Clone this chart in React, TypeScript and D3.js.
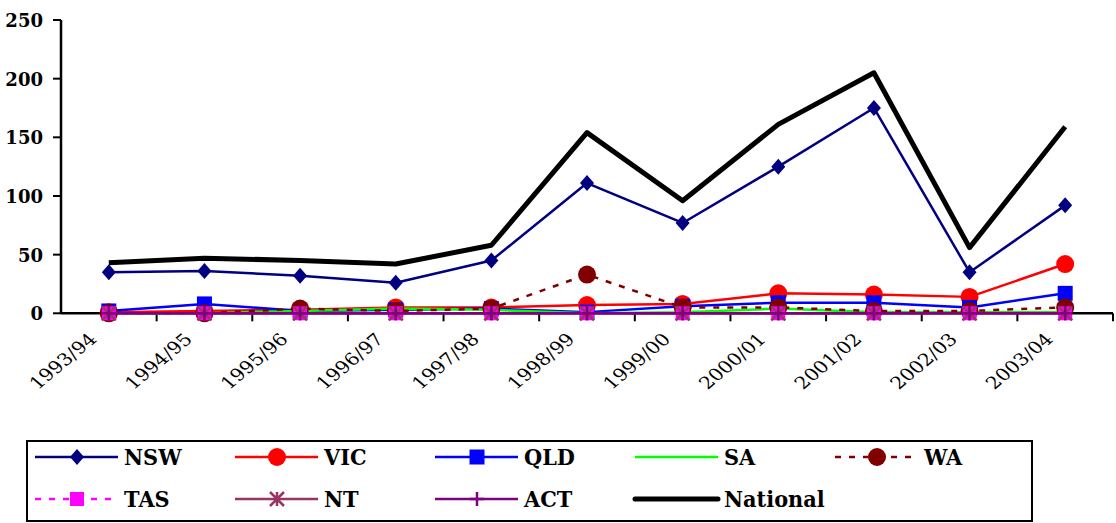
import * as d3 from 'd3';
import React, { useEffect, useRef } from 'react';

const years = [
  '1993/94', '1994/95', '1995/96', '1996/97', '1997/98', '1998/99',
  '1999/00', '2000/01', '2001/02', '2002/03', '2003/04',
];
const nsw = [35, 36, 32, 26, 45, 111, 77, 125, 175, 35, 92];
const vic = [1, 2, 3, 5, 5, 7, 8, 17, 16, 14, 42];
const qld = [2, 8, 2, 3, 4, 1, 6, 9, 9, 5, 17];
const sa = [0, 0, 2, 4, 3, 0, 1, 4, 1, 1, 1];
const wa = [0, 0, 4, 2, 4, 33, 5, 5, 2, 2, 5];
const tas = [0, 0, 0, 0, 0, 0, 0, 0, 0, 0, 0];
const nt = [0, 0, 0, 0, 0, 0, 0, 0, 0, 0, 0];
const act = [0, 0, 0, 0, 0, 0, 0, 0, 0, 0, 0];
const national = [43, 47, 45, 42, 58, 154, 96, 161, 205, 56, 159];
const yTicks = [0, 50, 100, 150, 200, 250];

type Series = {
  name: string;
  values: number[];
  color: string;
  width: number;
  dash?: string;
  marker: string;
};

const series: Series[] = [
  { name: 'NSW', values: nsw, color: '#000080', width: 2.5, marker: 'diamond' },
  { name: 'VIC', values: vic, color: '#ff0000', width: 2.5, marker: 'circle' },
  { name: 'QLD', values: qld, color: '#0000ff', width: 2.5, marker: 'square' },
  { name: 'SA', values: sa, color: '#00ff00', width: 2.5, marker: 'none' },
  { name: 'WA', values: wa, color: '#800000', width: 2.5, dash: '6 8', marker: 'circle' },
  { name: 'TAS', values: tas, color: '#ff00ff', width: 2.5, dash: '6 8', marker: 'square' },
  { name: 'NT', values: nt, color: '#993366', width: 2.5, marker: 'star' },
  { name: 'ACT', values: act, color: '#800080', width: 2.5, marker: 'plus' },
  { name: 'National', values: national, color: '#000000', width: 5, marker: 'none' },
];

const font = "'DejaVu Serif', 'Liberation Serif', serif";

function drawMarker(g: d3.Selection<SVGGElement, unknown, null, undefined>, s: Series, x: number, y: number) {
  const c = s.color;
  if (s.marker === 'diamond') {
    g.append('path').attr('d', `M${x},${y - 8}L${x + 7},${y}L${x},${y + 8}L${x - 7},${y}Z`).attr('fill', c);
  } else if (s.marker === 'circle') {
    g.append('circle').attr('cx', x).attr('cy', y).attr('r', 9).attr('fill', c);
  } else if (s.marker === 'square') {
    const sz = s.name === 'QLD' ? 15 : 14;
    g.append('rect').attr('x', x - sz / 2).attr('y', y - sz / 2).attr('width', sz).attr('height', sz).attr('fill', c);
  } else if (s.marker === 'star') {
    const r = 7;
    g.append('path')
      .attr('d', `M${x},${y - r}V${y + r}M${x - r},${y - r}L${x + r},${y + r}M${x + r},${y - r}L${x - r},${y + r}`)
      .attr('stroke', c).attr('stroke-width', 2.5).attr('fill', 'none');
  } else if (s.marker === 'plus') {
    const r = 7;
    g.append('path')
      .attr('d', `M${x},${y - r}V${y + r}M${x - r},${y}H${x + r}`)
      .attr('stroke', c).attr('stroke-width', 2.5).attr('fill', 'none');
  }
}

function App() {
  const svgRef = useRef<SVGSVGElement>(null);

  useEffect(() => {
    const w = 1116;
    const h = 523;
    const svg = d3.select(svgRef.current).attr('width', w).attr('height', h);
    svg.selectAll('*').remove();

    const left = 61;
    const right = 1113;
    const top = 20;
    const bottom = 313.3;

    const x = d3.scaleBand().domain(years).range([left, right]);
    const y = d3.scaleLinear().domain([0, 250]).range([bottom, top]);
    const cx = (d: string) => (x(d) as number) + x.bandwidth() / 2;

    // y axis
    svg.append('line').attr('x1', left).attr('x2', left).attr('y1', top).attr('y2', bottom)
      .attr('stroke', 'black').attr('stroke-width', 2.5);
    yTicks.forEach((t) => {
      svg.append('line').attr('x1', left - 8).attr('x2', left).attr('y1', y(t)).attr('y2', y(t))
        .attr('stroke', 'black').attr('stroke-width', 2);
      svg.append('text')
        .attr('transform', `translate(43,${y(t) + 7}) scale(0.95,1)`)
        .attr('text-anchor', 'end')
        .style('font-family', font).style('font-weight', 'bold').style('font-size', '19px')
        .text(t);
    });

    // x axis
    svg.append('line').attr('x1', left).attr('x2', right).attr('y1', bottom).attr('y2', bottom)
      .attr('stroke', 'black').attr('stroke-width', 2.5);
    years.forEach((d, i) => {
      const bx = x(d) as number;
      if (i > 0) {
        svg.append('line').attr('x1', bx).attr('x2', bx).attr('y1', bottom).attr('y2', bottom + 8)
          .attr('stroke', 'black').attr('stroke-width', 2);
      }
      svg.append('text')
        .attr('transform', `translate(${cx(d) - 11},${bottom + 27}) scale(1.2,1) rotate(-45)`)
        .attr('text-anchor', 'end')
        .style('font-family', font).style('font-size', '17px')
        .text(d);
    });
    svg.append('line').attr('x1', right).attr('x2', right).attr('y1', bottom).attr('y2', bottom + 8)
      .attr('stroke', 'black').attr('stroke-width', 2);

    // series
    const line = d3.line<number>().x((_, i) => cx(years[i])).y((v) => y(v));
    series.forEach((s) => {
      const g = svg.append('g');
      g.append('path')
        .attr('d', line(s.values))
        .attr('fill', 'none')
        .attr('stroke', s.color)
        .attr('stroke-width', s.width)
        .attr('stroke-dasharray', s.dash || null)
        .attr('stroke-linejoin', 'round');
      s.values.forEach((v, i) => drawMarker(g, s, cx(years[i]), y(v)));
    });

    // legend
    svg.append('rect').attr('x', 27).attr('y', 441).attr('width', 1005).attr('height', 80)
      .attr('fill', 'white').attr('stroke', 'black').attr('stroke-width', 2);
    series.forEach((s, i) => {
      const col = i % 5;
      const row = Math.floor(i / 5);
      const lx = 35 + col * 200;
      const ly = row === 0 ? 457 : 499;
      const g = svg.append('g');
      g.append('line').attr('x1', lx).attr('x2', lx + 83).attr('y1', ly).attr('y2', ly)
        .attr('stroke', s.color).attr('stroke-width', s.width)
        .attr('stroke-dasharray', s.dash || null)
        .attr('stroke-linecap', s.name === 'National' ? 'round' : 'butt');
      drawMarker(g, s, lx + 42, ly);
      g.append('text')
        .attr('transform', `translate(${lx + 89},${ly + 8}) scale(0.95,1)`)
        .style('font-family', font).style('font-weight', 'bold').style('font-size', '22px')
        .text(s.name);
    });
  }, []);

  return (
    <div style={{ position: 'absolute', left: 0, top: 0 }}>
      <svg ref={svgRef} style={{ display: 'block' }}></svg>
    </div>
  );
}

export default App;
